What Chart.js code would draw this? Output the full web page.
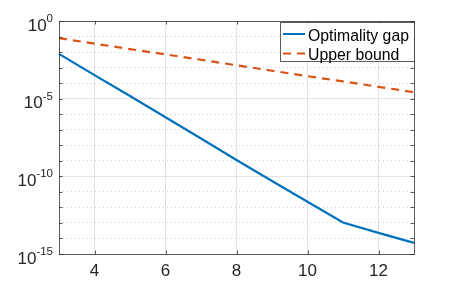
<!DOCTYPE html>
<html>
<head>
<meta charset="utf-8">
<script src="https://cdn.jsdelivr.net/npm/chart.js@4"></script>
<style>
  html, body { margin: 0; padding: 0; background: #fff; }
  #wrap { width: 457px; height: 286px; }
</style>
</head>
<body>
<div id="wrap"><canvas id="gapChart" width="457" height="286"></canvas></div>
<script>
// data
const iterations = [3, 4, 5, 6, 7, 8, 9, 10, 11, 12, 13];
const optimalityGap = [7.6e-3, 3.3e-4, 1.48e-5, 6.3e-7, 2.7e-8, 1.12e-9, 5.0e-11, 2.3e-12, 1.07e-13, 2.3e-14, 5.2e-15];
const upperBound = [7.8e-2, 3.5e-2, 1.55e-2, 7.1e-3, 3.2e-3, 1.41e-3, 6.3e-4, 2.8e-4, 1.29e-4, 5.8e-5, 2.6e-5];
const xTicks = [4, 6, 8, 10, 12];
const yExponents = [0, -1, -2, -3, -4, -5, -6, -7, -8, -9, -10, -11, -12, -13, -14, -15];
const yLabelExponents = [0, -5, -10, -15];

const FONT = '"Liberation Sans", Arial, Helvetica, sans-serif';
const AXIS_COLOR = '#262626';

const isMajorY = v => yLabelExponents.includes(Math.round(Math.log10(v)));

// box, inward ticks, y labels with superscripts, legend
const matlabLook = {
  id: 'matlabLook',
  afterDraw(chart) {
    const { ctx, chartArea: a, scales: { x, y } } = chart;
    ctx.save();

    // inward tick marks
    ctx.strokeStyle = 'rgba(38,38,38,0.75)';
    ctx.lineWidth = 1;
    ctx.beginPath();
    xTicks.forEach(t => {
      const px = Math.round(x.getPixelForValue(t)) + 0.5;
      ctx.moveTo(px, a.bottom); ctx.lineTo(px, a.bottom - 3.5);
      ctx.moveTo(px, a.top); ctx.lineTo(px, a.top + 3.5);
    });
    yExponents.forEach(e => {
      const py = Math.round(y.getPixelForValue(Math.pow(10, e))) + 0.5;
      ctx.moveTo(a.left, py); ctx.lineTo(a.left + 3.5, py);
      ctx.moveTo(a.right, py); ctx.lineTo(a.right - 3.5, py);
    });
    ctx.stroke();

    // axes box
    ctx.strokeRect(Math.round(a.left) + 0.5, Math.round(a.top) + 0.5,
      Math.round(a.right - a.left), Math.round(a.bottom - a.top));

    // y tick labels 10^n
    ctx.fillStyle = AXIS_COLOR;
    ctx.textBaseline = 'alphabetic';
    ctx.textAlign = 'right';
    const right = a.left - 6;
    yLabelExponents.forEach(e => {
      const py = y.getPixelForValue(Math.pow(10, e));
      const sup = String(e);
      ctx.font = '11.5px ' + FONT;
      const w = ctx.measureText(sup).width;
      ctx.fillText(sup, right, py + 1);
      ctx.font = '17px ' + FONT;
      ctx.fillText('10', right - w, py + 9.8);
    });

    // legend
    const lx = 280.5, ly = 22.5, lw = 134, lh = 39;
    ctx.fillStyle = '#fff';
    ctx.fillRect(lx, ly, lw, lh);
    ctx.strokeStyle = 'rgba(38,38,38,0.75)';
    ctx.strokeRect(lx, ly, lw, lh);
    const rows = [34, 53.5];
    chart.data.datasets.forEach((ds, i) => {
      ctx.beginPath();
      ctx.strokeStyle = ds.borderColor;
      ctx.lineWidth = 2;
      ctx.setLineDash(ds.borderDash || []);
      ctx.moveTo(283, rows[i]);
      ctx.lineTo(305, rows[i]);
      ctx.stroke();
      ctx.setLineDash([]);
      ctx.fillStyle = '#000';
      ctx.font = '15.8px ' + FONT;
      ctx.textAlign = 'left';
      ctx.fillText(ds.label, 308, rows[i] + 6.5);
    });

    ctx.restore();
  }
};

new Chart(document.getElementById('gapChart'), {
  type: 'line',
  data: {
    datasets: [{
      label: 'Optimality gap',
      data: iterations.map((v, i) => ({ x: v, y: optimalityGap[i] })),
      borderColor: '#0072BD',
      borderWidth: 2.2,
      pointRadius: 0,
      tension: 0,
      clip: false
    }, {
      label: 'Upper bound',
      data: iterations.map((v, i) => ({ x: v, y: upperBound[i] })),
      borderColor: '#D95319',
      borderWidth: 2.2,
      borderDash: [8, 6],
      pointRadius: 0,
      tension: 0,
      clip: false
    }]
  },
  options: {
    responsive: false,
    animation: false,
    layout: { padding: { top: 21, right: 43, left: 0, bottom: 0 } },
    plugins: { legend: { display: false }, tooltip: { enabled: false } },
    scales: {
      x: {
        type: 'linear',
        min: 3,
        max: 13,
        afterBuildTicks: s => { s.ticks = xTicks.map(v => ({ value: v })); },
        afterFit: s => { s.height = 32; },
        grid: { color: '#e3e3e3', lineWidth: 1, drawTicks: false },
        border: { display: false },
        ticks: { color: AXIS_COLOR, font: { family: FONT, size: 17 }, padding: 7, maxRotation: 0 }
      },
      y: {
        type: 'logarithmic',
        min: 1e-15,
        max: 1,
        afterBuildTicks: s => { s.ticks = yExponents.map(e => ({ value: Math.pow(10, e) })); },
        afterFit: s => { s.width = 59; },
        grid: {
          color: c => (c.tick && isMajorY(c.tick.value)) ? '#e3e3e3' : '#d0d0d0',
          lineWidth: 1,
          drawTicks: false
        },
        border: {
          display: false,
          dash: c => (c.tick && !isMajorY(c.tick.value)) ? [1, 3] : []
        },
        ticks: { display: false }
      }
    }
  },
  plugins: [matlabLook]
});
</script>
</body>
</html>
